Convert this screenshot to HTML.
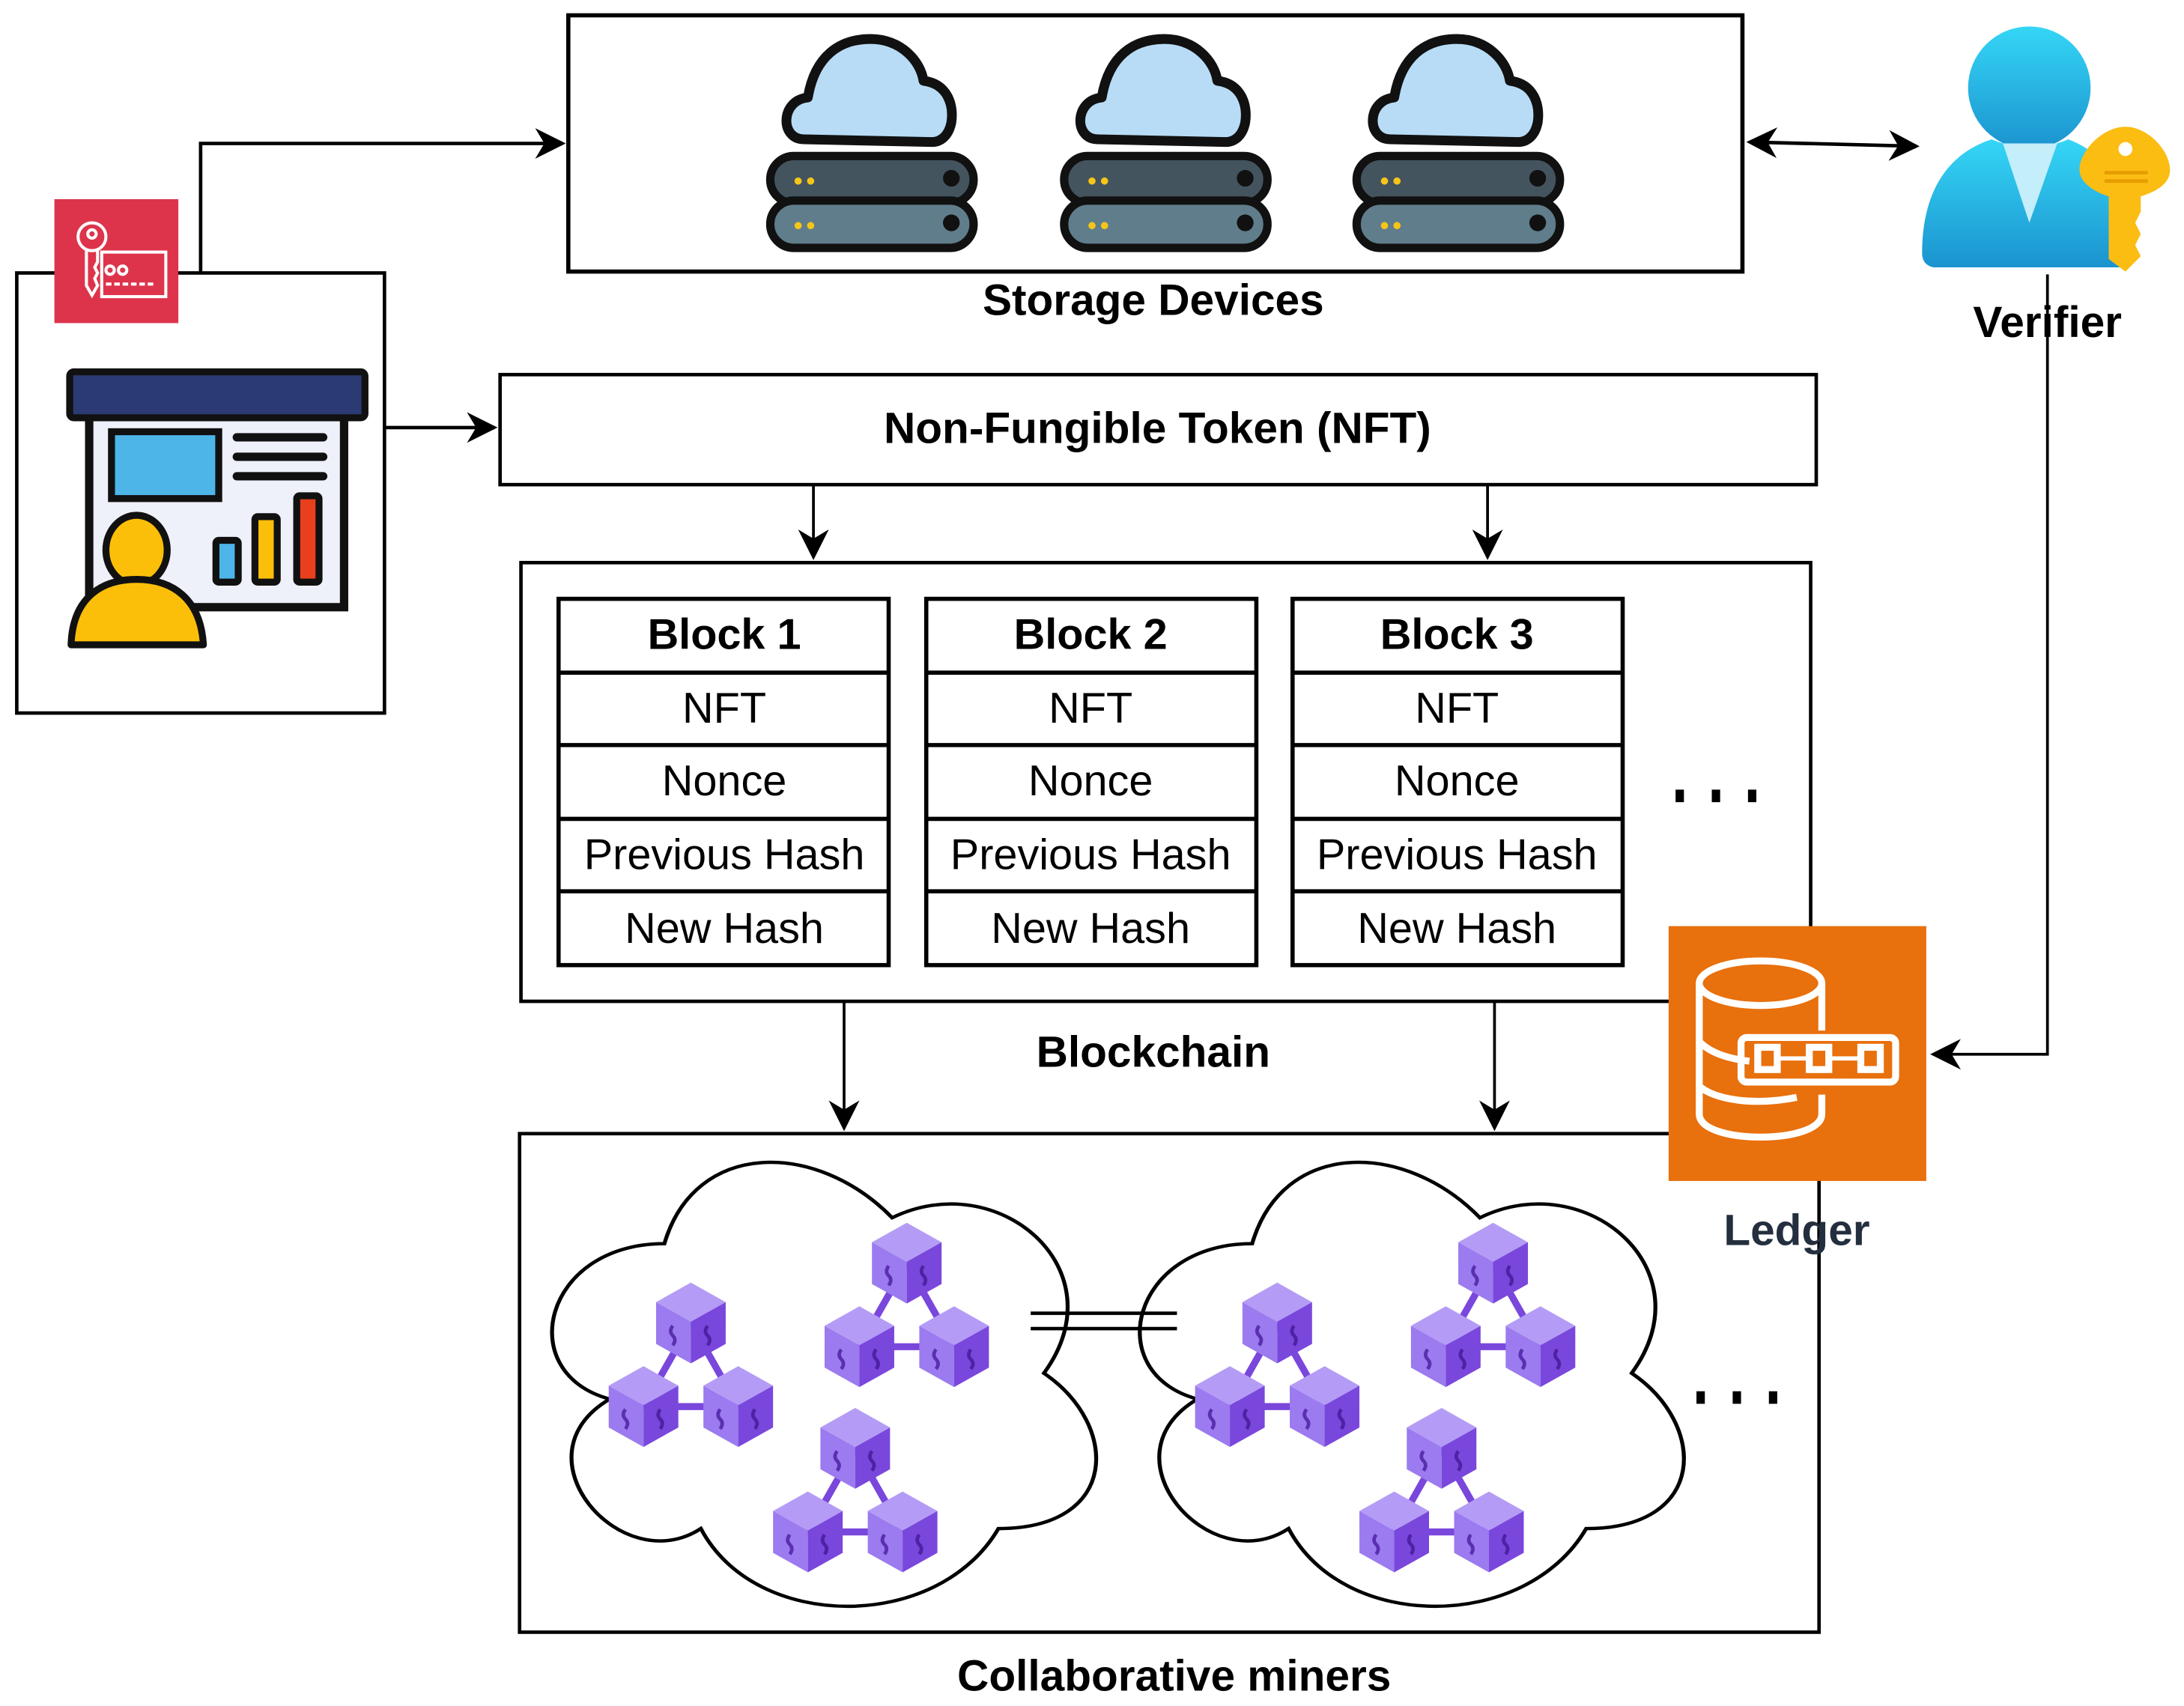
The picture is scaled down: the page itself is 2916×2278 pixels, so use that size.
<!DOCTYPE html>
<html><head><meta charset="utf-8"><style>
html,body{margin:0;padding:0;background:#fff;width:2916px;height:2278px;overflow:hidden}
svg text{font-family:"Liberation Sans",Arial,sans-serif}
</style></head><body>
<svg width="2916" height="2278" viewBox="0 0 1568 1225" xmlns="http://www.w3.org/2000/svg">
<defs>
<marker id="ah2" viewBox="0 0 10 10" refX="9" refY="5" markerWidth="22" markerHeight="22" orient="auto-start-reverse" markerUnits="userSpaceOnUse"><path d="M0,0 L10,5 L0,10 L3,5 Z" fill="#000"/></marker>
<g id="srv">
 <path d="M-48,70 C-65,70 -65,42 -45,40 C-40,10 -22,-2 0,-2 C22,-2 36,14 38,28 C55,30 60,45 58,58 C56,68 50,72 44,72 Z" fill="#b8dcf6" stroke="#111" stroke-width="7" stroke-linejoin="round"/>
 <rect x="-72" y="82" width="146" height="34" rx="17" fill="#44545f" stroke="#111" stroke-width="6"/>
 <rect x="-72" y="114" width="146" height="34" rx="17" fill="#607d8b" stroke="#111" stroke-width="6"/>
 <circle cx="-52" cy="100" r="2.6" fill="#f5c518"/><circle cx="-43" cy="100" r="2.6" fill="#f5c518"/>
 <circle cx="-52" cy="132" r="2.6" fill="#f5c518"/><circle cx="-43" cy="132" r="2.6" fill="#f5c518"/>
 <circle cx="58" cy="98" r="6" fill="#111"/><circle cx="58" cy="130" r="6" fill="#111"/>
</g>
<g id="cube">
 <path d="M0,-29 L25,-15 L0,-1 L-25,-15 Z" fill="#b49cf6"/>
 <path d="M-25,-15 L0,-1 L0,29 L-25,15 Z" fill="#9b7bef"/>
 <path d="M0,-1 L25,-15 L25,15 L0,29 Z" fill="#7a47dc"/>
 <path d="M-13,2 q-3,4 0,7 q3,3 0,7" stroke="#5a2fb0" stroke-width="2.5" fill="none"/>
 <path d="M12,2 q-3,4 0,7 q3,3 0,7" stroke="#4e22a3" stroke-width="2.5" fill="none"/>
</g>
<g id="clu">
 <path d="M0,0 L-34,60 M0,0 L34,60 M-34,60 L34,60" stroke="#7a47dc" stroke-width="5"/>
 <use href="#cube" x="0" y="0"/>
 <use href="#cube" x="-34" y="60"/>
 <use href="#cube" x="34" y="60"/>
</g>
<path id="cloud" d="M0.25,0.25 C0.05,0.25 0,0.5 0.16,0.55 C0,0.66 0.18,0.9 0.31,0.8 C0.4,1 0.7,1 0.8,0.8 C1,0.8 1,0.6 0.875,0.5 C1,0.3 0.8,0.1 0.625,0.2 C0.5,0.05 0.3,0.05 0.25,0.25 Z"/>
<linearGradient id="vg" x1="0" y1="0" x2="0" y2="1"><stop offset="0" stop-color="#35d6f6"/><stop offset="1" stop-color="#1b93cf"/></linearGradient>
</defs>

<rect x="408" y="11" width="843" height="184" fill="#fff" stroke="#000" stroke-width="3"/>
<use href="#srv" x="625" y="30"/>
<use href="#srv" x="836" y="30"/>
<use href="#srv" x="1046" y="30"/>
<text x="828" y="226" font-size="31.5" font-weight="bold" text-anchor="middle">Storage Devices</text>

<rect x="12" y="196" width="264" height="316" fill="#fff" stroke="#000" stroke-width="2.5"/>
<polyline points="144,196 144,103 404,103" fill="none" stroke="#000" stroke-width="2.5" marker-end="url(#ah2)"/>
<rect x="39" y="143" width="89" height="89" fill="#dd344c"/>
<g fill="none" stroke="#fff" stroke-width="2.2">
 <circle cx="66" cy="170" r="10"/><circle cx="66" cy="168" r="3"/>
 <path d="M62,180 L62,205 L66,212 L70,205 L68,200 L70,196 L68,192 L70,188 L70,180"/>
 <rect x="73" y="181" width="46" height="32"/>
 <circle cx="79" cy="194" r="3"/><circle cx="88" cy="194" r="3"/>
 <path d="M76,204 H110" stroke-dasharray="4 2"/>
</g>
<rect x="64" y="290" width="183" height="146" fill="#eef0fa" stroke="#111" stroke-width="6"/>
<rect x="50" y="267" width="212" height="33" rx="3" fill="#2c3a73" stroke="#111" stroke-width="5"/>
<rect x="80" y="310" width="77" height="48" fill="#4db5e8" stroke="#111" stroke-width="5"/>
<g stroke="#111" stroke-width="6" stroke-linecap="round"><path d="M170,314H232M170,328H232M170,342H232"/></g>
<rect x="155" y="388" width="16" height="30" rx="2" fill="#4db5e8" stroke="#111" stroke-width="5"/>
<rect x="183" y="371" width="16" height="47" rx="2" fill="#fbbf0a" stroke="#111" stroke-width="5"/>
<rect x="213" y="356" width="16" height="62" rx="2" fill="#e8401c" stroke="#111" stroke-width="5"/>
<ellipse cx="98" cy="395" rx="22" ry="25" fill="#fbbf0a" stroke="#111" stroke-width="5"/>
<path d="M51,463 C52,430 72,416 98,416 C124,416 144,430 146,463 Z" fill="#fbbf0a" stroke="#111" stroke-width="5" stroke-linejoin="round"/>
<line x1="276" y1="307" x2="355" y2="307" stroke="#000" stroke-width="2.5" marker-end="url(#ah2)"/>

<rect x="359" y="269" width="945" height="79" fill="#fff" stroke="#000" stroke-width="2.5"/>
<text x="831" y="318" font-size="31.5" font-weight="bold" text-anchor="middle">Non-Fungible Token (NFT)</text>
<line x1="584" y1="348" x2="584" y2="400" stroke="#000" stroke-width="2" marker-end="url(#ah2)"/>
<line x1="1068" y1="348" x2="1068" y2="400" stroke="#000" stroke-width="2" marker-end="url(#ah2)"/>

<rect x="374" y="404" width="926" height="315" fill="#fff" stroke="#000" stroke-width="2.5"/>
<g stroke="#000" stroke-width="3">
<g fill="#fff">
 <rect x="401" y="430" width="237" height="263"/><rect x="665" y="430" width="237" height="263"/><rect x="928" y="430" width="237" height="263"/>
</g>
<path d="M401,483H638M401,535H638M401,588H638M401,640H638 M665,483H902M665,535H902M665,588H902M665,640H902 M928,483H1165M928,535H1165M928,588H1165M928,640H1165"/>
</g>
<g font-size="31" text-anchor="middle">
 <text x="520" y="466" font-weight="bold">Block 1</text><text x="783" y="466" font-weight="bold">Block 2</text><text x="1046" y="466" font-weight="bold">Block 3</text>
 <text x="520" y="519">NFT</text><text x="783" y="519">NFT</text><text x="1046" y="519">NFT</text>
 <text x="520" y="571">Nonce</text><text x="783" y="571">Nonce</text><text x="1046" y="571">Nonce</text>
 <text x="520" y="624">Previous Hash</text><text x="783" y="624">Previous Hash</text><text x="1046" y="624">Previous Hash</text>
 <text x="520" y="677">New Hash</text><text x="783" y="677">New Hash</text><text x="1046" y="677">New Hash</text>
</g>
<g fill="#000"><rect x="1203" y="567" width="6" height="9"/><rect x="1229" y="567" width="6" height="9"/><rect x="1255" y="567" width="6" height="9"/></g>
<text x="828" y="766" font-size="31.5" font-weight="bold" text-anchor="middle">Blockchain</text>
<line x1="606" y1="719" x2="606" y2="810" stroke="#000" stroke-width="2" marker-end="url(#ah2)"/>
<line x1="1073" y1="719" x2="1073" y2="810" stroke="#000" stroke-width="2" marker-end="url(#ah2)"/>

<rect x="373" y="814" width="933" height="358" fill="#fff" stroke="#000" stroke-width="2.5"/>
<g fill="#fff" stroke="#000">
 <use href="#cloud" transform="translate(368,800) scale(436,372)" stroke-width="0.0065"/>
 <use href="#cloud" transform="translate(790,800) scale(436,372)" stroke-width="0.0065"/>
</g>
<path d="M740,943H845M740,954H845" stroke="#000" stroke-width="2.5"/>
<use href="#clu" x="496" y="950"/>
<use href="#clu" x="651" y="907"/>
<use href="#clu" x="614" y="1040"/>
<use href="#clu" x="917" y="950"/>
<use href="#clu" x="1072" y="907"/>
<use href="#clu" x="1035" y="1040"/>
<g fill="#000"><rect x="1218" y="999" width="6" height="9"/><rect x="1244" y="999" width="6" height="9"/><rect x="1270" y="999" width="6" height="9"/></g>
<text x="843" y="1214" font-size="31.5" font-weight="bold" text-anchor="middle">Collaborative miners</text>

<line x1="1256" y1="102" x2="1376" y2="105" stroke="#000" stroke-width="2.5" marker-start="url(#ah2)" marker-end="url(#ah2)"/>
<ellipse cx="1457" cy="63" rx="44" ry="44" fill="url(#vg)"/>
<path d="M1380,182 C1380,130 1405,108 1430,100 C1445,107 1470,107 1485,100 C1510,110 1530,130 1532,182 C1532,188 1528,192 1522,192 L1390,192 C1384,192 1380,188 1380,182 Z" fill="url(#vg)"/>
<path d="M1438,103 L1457,160 L1477,103 Z" fill="#c4eef9"/>
<path d="M1526,91 C1510,91 1493,108 1493,122 C1493,131 1504,138 1514,141 L1514,186 L1526,195 L1537,184 L1533,176 L1537,168 L1533,160 L1537,152 L1537,141 C1550,137 1558,131 1558,122 C1558,108 1542,91 1526,91 Z" fill="#fbbd12"/>
<circle cx="1526" cy="107" r="5" fill="#fff"/>
<path d="M1511,124H1542M1511,130H1542" stroke="#e69d00" stroke-width="2.5"/>
<text x="1470" y="242" font-size="31.5" font-weight="bold" text-anchor="middle">Verifier</text>
<polyline points="1470,197 1470,757 1388,757" fill="none" stroke="#000" stroke-width="2" marker-end="url(#ah2)"/>

<rect x="1198" y="665" width="185" height="183" fill="#e8700d"/>
<g fill="none" stroke="#fff" stroke-width="5">
 <ellipse cx="1264" cy="706" rx="44" ry="16"/>
 <path d="M1220,706 V800 C1220,822 1308,822 1308,800 V786"/>
 <path d="M1308,706 V740"/>
 <path d="M1220,748 C1228,756 1240,760 1256,762"/>
 <path d="M1220,780 C1232,790 1260,794 1290,788"/>
 <rect x="1250" y="745" width="111" height="32" rx="4"/>
 <rect x="1262" y="752" width="14" height="16"/><rect x="1299" y="752" width="14" height="16"/><rect x="1336" y="752" width="14" height="16"/>
 <path d="M1276,760H1299M1313,760H1336" stroke-width="3"/>
</g>
<text x="1290" y="894" font-size="31.5" font-weight="bold" text-anchor="middle" fill="#232f3e">Ledger</text>
</svg>
</body></html>
